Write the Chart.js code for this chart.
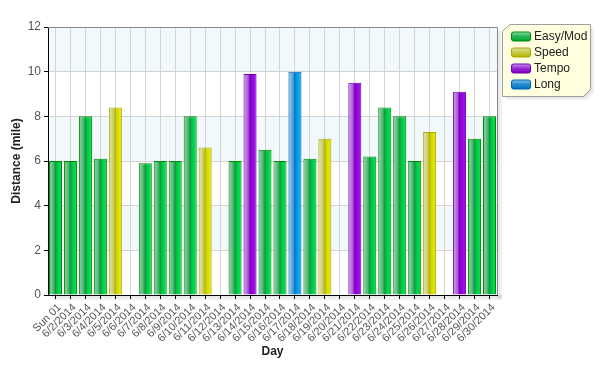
<!DOCTYPE html>
<html>
<head>
<meta charset="utf-8">
<script src="https://cdn.jsdelivr.net/npm/chart.js@4/dist/chart.umd.min.js"></script>
<style>
  html, body { margin: 0; padding: 0; background: #fff; }
  #wrap { width: 605px; height: 382px; position: relative; }
</style>
</head>
<body>
<div id="wrap"><canvas id="c" width="605" height="382"></canvas></div>
<script>
const categories = ["Sun 01","6/2/2014","6/3/2014","6/4/2014","6/5/2014","6/6/2014","6/7/2014","6/8/2014","6/9/2014","6/10/2014","6/11/2014","6/12/2014","6/13/2014","6/14/2014","6/15/2014","6/16/2014","6/17/2014","6/18/2014","6/19/2014","6/20/2014","6/21/2014","6/22/2014","6/23/2014","6/24/2014","6/25/2014","6/26/2014","6/27/2014","6/28/2014","6/29/2014","6/30/2014"];
const easyMod = [6,6,8,6.1,null,null,5.9,6,6,8,null,null,6,null,6.5,6,null,6.1,null,null,null,6.2,8.4,8,6,null,null,null,7,8];
const speed   = [null,null,null,null,8.4,null,null,null,null,null,6.6,null,null,null,null,null,null,null,7,null,null,null,null,null,null,7.3,null,null,null,null];
const tempo   = [null,null,null,null,null,null,null,null,null,null,null,null,null,9.9,null,null,null,null,null,null,9.5,null,null,null,null,null,null,9.1,null,null];
const longRun = [null,null,null,null,null,null,null,null,null,null,null,null,null,null,null,null,10,null,null,null,null,null,null,null,null,null,null,null,null,null];
const seriesNames = ["Easy/Mod","Speed","Tempo","Long"];
const yTicks = [0,2,4,6,8,10,12];

const palettes = [
  {stops:[[0,'#6cc088'],[0.15,'#7ccc94'],[0.35,'#4cb474'],[0.5,'#0e9a3c'],[0.6,'#00be44'],[0.85,'#00de4c'],[1,'#00c842']], border:'#008a00', sw:['#9be0b0','#2ab85a','#00a838']},
  {stops:[[0,'#d0d488'],[0.15,'#dadd98'],[0.35,'#c8cc68'],[0.5,'#b2b600'],[0.6,'#d0d400'],[0.85,'#e6e600'],[1,'#cccc00']], border:'#a8aa00', sw:['#e4e6a8','#c8cc50','#b4b800']},
  {stops:[[0,'#b870dc'],[0.15,'#c488e4'],[0.35,'#a858d4'],[0.5,'#7e00bc'],[0.6,'#9000d6'],[0.85,'#a010ec'],[1,'#8c00d0']], border:'#7000b0', sw:['#d0a0ee','#9a30d8','#8000c0']},
  {stops:[[0,'#68acdc'],[0.15,'#80bce6'],[0.35,'#4e9ed6'],[0.5,'#0076c4'],[0.6,'#0092e2'],[0.85,'#10aaf6'],[1,'#0090e0']], border:'#0060a8', sw:['#90c8ee','#2a8ed6','#0074c0']}
];

Chart.defaults.font.family = "'Liberation Sans', Arial, sans-serif";
Chart.defaults.color = '#555';

function barFill(pi) {
  return function(ctx) {
    const chart = ctx.chart;
    const xs = chart.scales && chart.scales.x;
    const fallback = palettes[pi].stops[3][1];
    if (!xs || ctx.dataIndex === undefined) return fallback;
    const cx = xs.getPixelForValue(ctx.dataIndex);
    const w = (xs.width / categories.length) * 0.87;
    if (!isFinite(cx) || !isFinite(w) || w <= 0) return fallback;
    const g = chart.ctx.createLinearGradient(cx - w / 2, 0, cx + w / 2, 0);
    palettes[pi].stops.forEach(s => g.addColorStop(s[0], s[1]));
    return g;
  };
}

const seriesData = [easyMod, speed, tempo, longRun];
const datasets = seriesData.map((d, i) => ({
  label: seriesNames[i],
  data: d,
  backgroundColor: barFill(i),
  borderColor: palettes[i].border,
  borderWidth: 1,
  grouped: false,
  categoryPercentage: 1,
  barPercentage: 0.87
}));

const bandsPlugin = {
  id: 'bands',
  beforeDraw(chart) {
    const {ctx, chartArea: a, scales: {y}} = chart;
    ctx.save();
    ctx.fillStyle = 'rgba(0,0,0,0.05)';
    ctx.fillRect(a.right, a.top + 4, 5, a.bottom - a.top);
    ctx.fillRect(a.left + 4, a.bottom, a.right - a.left + 1, 5);
    ctx.fillStyle = 'rgba(0,0,0,0.04)';
    ctx.fillRect(a.right, a.top + 5, 3, a.bottom - a.top);
    ctx.fillRect(a.left + 5, a.bottom, a.right - a.left, 3);
    for (let i = 0; i < yTicks.length - 1; i++) {
      if (i % 2 === 1) {
        const y1 = y.getPixelForValue(yTicks[i]);
        const y2 = y.getPixelForValue(yTicks[i + 1]);
        ctx.fillStyle = '#f2f9fd';
        ctx.fillRect(a.left, y2, a.right - a.left, y1 - y2);
      }
    }
    ctx.restore();
  },
  afterDatasetsDraw(chart) {
    const {ctx, chartArea: a} = chart;
    ctx.save();
    ctx.strokeStyle = '#888';
    ctx.lineWidth = 1;
    ctx.beginPath();
    ctx.moveTo(a.left, a.top + 0.5);
    ctx.lineTo(a.right + 0.5, a.top + 0.5);
    ctx.lineTo(a.right + 0.5, a.bottom);
    ctx.stroke();
    ctx.restore();
  }
};

const legendPlugin = {
  id: 'customLegend',
  afterDraw(chart) {
    const ctx = chart.ctx;
    const L = 502, T = 24, R = 590, B = 96, c = 7;
    const shape = (dx, dy) => {
      ctx.beginPath();
      ctx.moveTo(L + c + dx, T + dy);
      ctx.lineTo(R + dx, T + dy);
      ctx.lineTo(R + dx, B - c + dy);
      ctx.lineTo(R - c + dx, B + dy);
      ctx.lineTo(L + dx, B + dy);
      ctx.lineTo(L + dx, T + c + dy);
      ctx.closePath();
    };
    ctx.save();
    ctx.fillStyle = 'rgba(0,0,0,0.06)';
    shape(4, 4); ctx.fill();
    ctx.fillStyle = 'rgba(0,0,0,0.05)';
    shape(2, 2); ctx.fill();
    ctx.fillStyle = '#ffffe0';
    shape(0, 0); ctx.fill();
    ctx.strokeStyle = '#a0a0a0';
    ctx.lineWidth = 1;
    ctx.translate(0.5, 0.5);
    shape(0, 0); ctx.stroke();
    ctx.translate(-0.5, -0.5);
    chart.data.datasets.forEach((ds, i) => {
      const cy = 36 + i * 16;
      const x0 = 511, w = 19, h = 9, y0 = cy - 4.5;
      const g = ctx.createLinearGradient(0, y0, 0, y0 + h);
      g.addColorStop(0, palettes[i].sw[0]);
      g.addColorStop(0.5, palettes[i].sw[1]);
      g.addColorStop(1, palettes[i].sw[2]);
      ctx.fillStyle = g;
      ctx.strokeStyle = palettes[i].border;
      ctx.beginPath();
      if (ctx.roundRect) ctx.roundRect(x0 + 0.5, y0 + 0.5, w, h, 2); else ctx.rect(x0 + 0.5, y0 + 0.5, w, h);
      ctx.fill();
      ctx.stroke();
      ctx.fillStyle = '#222';
      ctx.font = "12px 'Liberation Sans', Arial, sans-serif";
      ctx.textBaseline = 'middle';
      ctx.textAlign = 'left';
      ctx.fillText(ds.label, 534, cy + 0.5);
    });
    ctx.restore();
  }
};

new Chart(document.getElementById('c'), {
  type: 'bar',
  data: { labels: categories, datasets },
  options: {
    responsive: false,
    animation: false,
    layout: { padding: { left: 0, right: 108, top: 27, bottom: 20 } },
    plugins: { legend: { display: false }, tooltip: { enabled: false } },
    scales: {
      x: {
        afterFit(s) { s.height = 67; },
        grid: { offset: false, color: '#d4d4d4', tickColor: '#000', tickLength: 4, lineWidth: 1 },
        border: { color: '#000', width: 1 },
        ticks: { autoSkip: false, minRotation: 45, maxRotation: 45, font: { size: 11 }, color: '#555', padding: 2, labelOffset: 4 },
        title: { display: true, text: 'Day', font: { size: 12, weight: 'bold' }, color: '#222', padding: { top: 0, bottom: 3 } }
      },
      y: {
        min: 0, max: 12,
        afterFit(s) { s.width = 48; },
        afterBuildTicks(s) { s.ticks = yTicks.map(v => ({ value: v })); },
        grid: { color: '#d4d4d4', tickColor: '#000', tickLength: 4 },
        border: { color: '#000', width: 1 },
        ticks: { font: { size: 12 }, color: '#555', padding: 3 },
        title: { display: true, text: 'Distance (mile)', font: { size: 12, weight: 'bold' }, color: '#222', padding: { top: 9, bottom: 0 } }
      }
    }
  },
  plugins: [bandsPlugin, legendPlugin]
});
</script>
</body>
</html>
